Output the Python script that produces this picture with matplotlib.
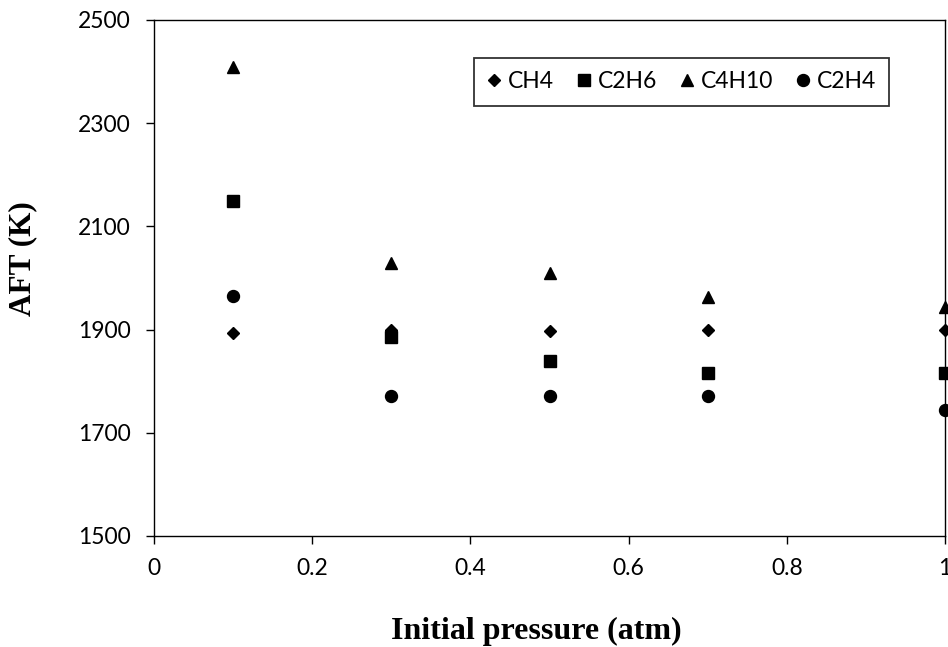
import numpy as np
import matplotlib.pyplot as plt
from matplotlib.ticker import FormatStrFormatter

# data
pressure = [0.1, 0.3, 0.5, 0.7, 1.0]
ch4 = [1894, 1899, 1898, 1900, 1900]
c2h6 = [2150, 1885, 1839, 1815, 1815]
c4h10 = [2408, 2029, 2009, 1963, 1943]
c2h4 = [1966, 1772, 1772, 1772, 1745]

series = [("CH4", ch4, "D", 6.1),
          ("C2H6", c2h6, "s", 8.4),
          ("C4H10", c4h10, "^", 8.6),
          ("C2H4", c2h4, "o", 8.6)]

tick_font = "Lato"
label_font = "Liberation Serif"

fig = plt.figure(figsize=(9.48, 6.47), dpi=100)
ax = fig.add_axes([154 / 948, 1 - 536 / 647, 791 / 948, 516 / 647])

for name, vals, mk, ms in series:
    ax.plot(pressure, vals, linestyle="none", marker=mk, markersize=ms,
            color="black", label=name, clip_on=False)

ax.set_xlim(0, 1)
ax.set_ylim(1500, 2500)
ax.set_xticks(np.arange(0, 1.01, 0.2))
ax.set_yticks(np.arange(1500, 2501, 200))
ax.xaxis.set_major_formatter(FormatStrFormatter("%g"))

ax.tick_params(direction="out", length=5.8, width=1, labelsize=16.5, colors="black")
ax.tick_params(axis="x", pad=10)
ax.tick_params(axis="y", pad=11)
for lab in ax.get_xticklabels() + ax.get_yticklabels():
    lab.set_fontfamily(tick_font)

for sp in ax.spines.values():
    sp.set_linewidth(1.0)
    sp.set_color("black")

ax.set_xlabel("Initial pressure (atm)", fontfamily=label_font, fontweight="bold",
              fontsize=23)
ax.set_ylabel("AFT (K)", fontfamily=label_font, fontweight="bold", fontsize=22.5)
ax.xaxis.set_label_coords(0.483, -0.157)
ax.yaxis.set_label_coords(-0.148, 0.537)

leg = ax.legend(loc="center", bbox_to_anchor=(681.5 / 948, 1 - 82 / 647),
                bbox_transform=fig.transFigure, ncol=4, frameon=True,
                fancybox=False, prop={"family": tick_font, "size": 16.5},
                handlelength=0.6, handletextpad=0.3, columnspacing=1.0,
                borderpad=0.6, borderaxespad=0)
leg.get_frame().set_edgecolor("black")
leg.get_frame().set_linewidth(1.3)

fig.savefig("out.png", dpi=100)
